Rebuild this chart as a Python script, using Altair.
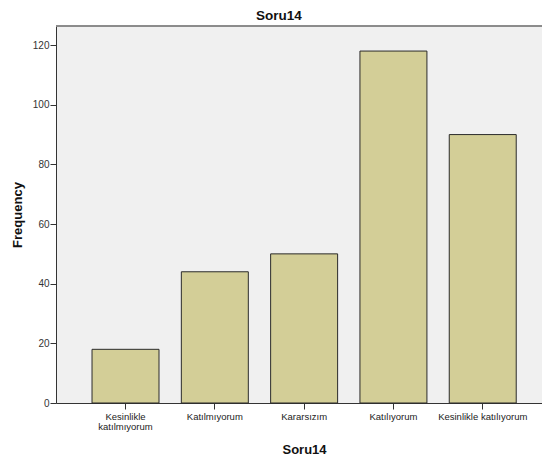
import altair as alt
import pandas as pd

categories = ["Kesinlikle katılmıyorum", "Katılmıyorum", "Kararsızım", "Katılıyorum", "Kesinlikle katılıyorum"]
frequencies = [18, 44, 50, 118, 90]
y_ticks = [0, 20, 40, 60, 80, 100, 120]

df = pd.DataFrame({"cat": categories, "freq": frequencies})

W = 486
H = 377
FONT = "Liberation Sans"

label_expr = ("datum.value == 'Kesinlikle katılmıyorum' ? ['Kesinlikle', 'katılmıyorum'] : datum.value")

bars = alt.Chart(df).mark_bar(
    fill="#D3CE97", stroke="#2b2b2b", strokeWidth=1
).encode(
    x=alt.X("cat:N", sort=categories,
            scale=alt.Scale(paddingInner=0.25, paddingOuter=0.346, align=0.583),
            axis=alt.Axis(title="Soru14", labelAngle=0, labelExpr=label_expr,
                          labelFont=FONT, labelFontSize=9.5, labelColor="#222",
                          labelPadding=2, tickSize=6, tickColor="#333", domainColor="#333",
                          titleFont=FONT, titleFontSize=13, titleFontWeight="bold",
                          titleColor="#111", titleX=248, titleY=40, titleAnchor="start",
                          titleAlign="center", labelLineHeight=10.5)),
    y=alt.Y("freq:Q", scale=alt.Scale(domain=[0, 126.4], nice=False),
            axis=alt.Axis(title="Frequency", values=y_ticks, grid=False,
                          labelFont=FONT, labelFontSize=10, labelColor="#333",
                          labelPadding=1, tickSize=6, tickColor="#333", domainColor="#333",
                          titleFont=FONT, titleFontSize=13, titleFontWeight="bold",
                          titleColor="#111", titlePadding=8)),
)

top_line = alt.Chart(df).mark_rule(color="#888", strokeWidth=1).encode(
    x=alt.value(0), x2=alt.value(W), y=alt.value(0)
)

chart = alt.layer(top_line, bars).properties(
    width=W, height=H,
    autosize=alt.AutoSizeParams(type="none"),
    padding={"left": 48, "top": 18, "right": 0, "bottom": 52},
    title=alt.TitleParams("Soru14", font=FONT, fontSize=13.5, fontWeight="bold",
                          color="#111", anchor="middle", dx=-20, offset=3),
    background="white",
).configure_view(fill="#F0F0F0", stroke=None)

chart.save("out.html", embed_options={"renderer": "svg", "actions": False})
